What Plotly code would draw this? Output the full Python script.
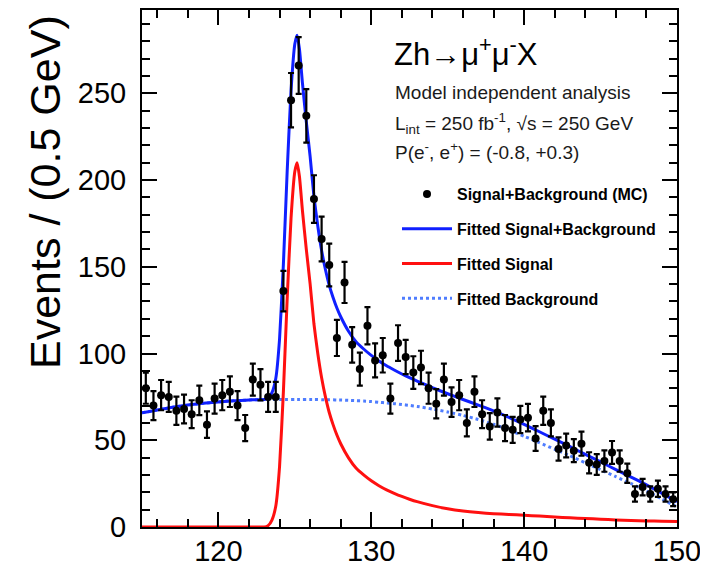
import plotly.graph_objects as go

# ---- data: Signal+Background (MC), 0.5 GeV bins ----
bin_centers = [115.25, 115.75, 116.25, 116.75, 117.25, 117.75, 118.25, 118.75, 119.25, 119.75,
               120.25, 120.75, 121.25, 121.75, 122.25, 122.75, 123.25, 123.75, 124.25, 124.75,
               125.25, 125.75, 126.25, 126.75, 127.25, 127.75, 128.25, 128.75, 129.25, 129.75,
               130.25, 130.75, 131.25, 131.75, 132.25, 132.75, 133.25, 133.75, 134.25, 134.75,
               135.25, 135.75, 136.25, 136.75, 137.25, 137.75, 138.25, 138.75, 139.25, 139.75,
               140.25, 140.75, 141.25, 141.75, 142.25, 142.75, 143.25, 143.75, 144.25, 144.75,
               145.25, 145.75, 146.25, 146.75, 147.25, 147.75, 148.25, 148.75, 149.25, 149.75]
events = [80, 70, 76, 75, 67, 68, 65, 73, 59, 74,
          76, 78, 70, 57, 85, 82, 75, 75, 136, 246,
          266, 237, 189, 166, 151, 109, 141, 105, 91, 116,
          96, 99, 74, 106, 98, 89, 92, 80, 71, 85,
          72, 76, 60, 78, 65, 58, 66, 57, 56, 62,
          63, 51, 67, 60, 45, 47, 44, 48, 37, 36,
          38, 43, 38, 31, 19, 23, 19, 22, 19, 16]

# ---- fitted curves ----
curve_x = [115, 117, 119, 121, 122, 122.5, 123, 123.25, 123.5, 123.75, 124, 124.25, 124.5, 124.75,
           125, 125.15, 125.3, 125.5, 125.75, 126, 126.25, 126.5, 126.75, 127, 127.25, 127.5,
           127.75, 128, 128.5, 129, 129.5, 130, 130.5, 131, 131.5, 132, 132.5, 133, 134, 135,
           136, 137, 138, 139, 140, 141, 142, 143, 144, 145, 146, 147, 148, 149, 150]
fit_signal = [0, 0, 0, 0, 0, 0, 0, 0.8, 4, 12, 35, 78, 132, 178,
              205, 210, 202, 182, 160, 140, 117, 100, 86, 75, 66, 59,
              53, 48, 40, 34, 30, 26.6, 23.8, 21.4, 19.4, 17.6, 16.0, 14.6, 12.3, 10.5,
              9.2, 8.3, 7.7, 7.2, 6.8, 6.3, 5.8, 5.3, 4.9, 4.5, 4.1, 3.8, 3.5, 3.3, 3.1]
fit_background = [65.8, 69, 71.3, 72.8, 73.2, 73.4, 73.5, 73.5, 73.5, 73.5, 73.5, 73.5, 73.5, 73.5,
                  73.5, 73.5, 73.5, 73.5, 73.5, 73.5, 73.5, 73.5, 73.4, 73.4, 73.3, 73.3,
                  73.2, 73.2, 73.0, 72.8, 72.6, 72.3, 71.9, 71.5, 71.1, 70.6, 70.1, 69.5, 68, 66.3,
                  64.3, 62, 59.2, 56, 52.3, 48.6, 44.8, 41, 37, 33, 29, 25, 20.8, 16.2, 11.5]
fit_total = [65.8, 69, 71.3, 72.8, 73.2, 73.4, 73.5, 74.3, 77.5, 85.5, 108.5, 151.5, 205.5, 251.5,
             278.5, 283.5, 275.5, 255.5, 233.5, 213.5, 190.5, 173.5, 159.4, 148.4, 139.3, 132.3,
             126.2, 121.2, 113, 106.8, 102.6, 98.9, 95.7, 92.9, 90.5, 88.2, 86.1, 84.1, 80.3, 76.8,
             73.5, 70.3, 66.9, 63.2, 59.1, 54.9, 50.6, 46.3, 41.9, 37.5, 33.1, 28.8, 24.3, 19.5, 14.6]

x_ticks = [120, 130, 140, 150]
y_ticks = [0, 50, 100, 150, 200, 250]

FONT = "Liberation Sans, Arial, Helvetica, sans-serif"

fig = go.Figure()

fig.add_trace(go.Scatter(
    x=curve_x, y=fit_background, mode="lines", name="Fitted Background",
    line=dict(color="#4f7dff", width=3, dash="dot", shape="spline", smoothing=0.5),
    legendgroup="d", legendrank=4))
fig.add_trace(go.Scatter(
    x=curve_x, y=fit_signal, mode="lines", name="Fitted Signal",
    line=dict(color="#ff1010", width=3, shape="spline", smoothing=0.5),
    legendgroup="c", legendrank=3))
fig.add_trace(go.Scatter(
    x=curve_x, y=fit_total, mode="lines", name="Fitted Signal+Background",
    line=dict(color="#1020ff", width=3, shape="spline", smoothing=0.5),
    legendgroup="b", legendrank=2))
fig.add_trace(go.Scatter(
    x=bin_centers, y=events, mode="markers", name="Signal+Background (MC)",
    marker=dict(color="black", size=8),
    error_y=dict(type="sqrt", color="black", thickness=2.2, width=3),
    legendgroup="a", legendrank=1))

axis_common = dict(
    showline=True, linecolor="black", linewidth=2, mirror="ticks",
    ticks="inside", ticklen=15, tickwidth=2, tickcolor="black",
    showgrid=False, zeroline=False, automargin=False,
    tickfont=dict(family=FONT, size=29, color="black"),
)

fig.update_xaxes(range=[115, 150], tickvals=x_ticks,
                 minor=dict(dtick=2, ticks="inside", ticklen=8, tickwidth=2, tickcolor="black"),
                 ticklabelstandoff=-3, **axis_common)
fig.update_yaxes(range=[0, 298], tickvals=y_ticks,
                 minor=dict(dtick=10, ticks="inside", ticklen=8, tickwidth=2, tickcolor="black"),
                 ticklabelstandoff=8, **axis_common)

# page has an 8px body margin; plot area is meant to span x 142..677, y 10..527 of the window
def px_x(p):
    return (p - 142) / 535.0

def px_y(p):
    return (527 - p) / 517.0

txt = "#1a1a1a"
annotations = [
    dict(text="Events / (0.5 GeV)", x=px_x(45), y=px_y(13), xanchor="center", yanchor="top",
         textangle=-90, font=dict(family=FONT, size=43, color="black")),
    dict(text="Zh\u2192\u03bc<sup>+</sup>\u03bc<sup>-</sup>X", x=px_x(392), y=px_y(52),
         xanchor="left", yanchor="middle", font=dict(family=FONT, size=31, color="black")),
    dict(text="Model independent analysis", x=px_x(393), y=px_y(92),
         xanchor="left", yanchor="middle", font=dict(family=FONT, size=19, color=txt)),
    dict(text="L<sub>int</sub> = 250 fb<sup>-1</sup>, \u221as = 250 GeV", x=px_x(393), y=px_y(123),
         xanchor="left", yanchor="middle", font=dict(family=FONT, size=19, color=txt)),
    dict(text="P(e<sup>-</sup>, e<sup>+</sup>) = (-0.8, +0.3)", x=px_x(393), y=px_y(151),
         xanchor="left", yanchor="middle", font=dict(family=FONT, size=19, color=txt)),
]
for a in annotations:
    a.update(xref="paper", yref="paper", showarrow=False)

fig.update_layout(
    width=700, height=560,
    margin=dict(l=134, r=31, t=2, b=41, autoexpand=False),
    paper_bgcolor="white", plot_bgcolor="white",
    font=dict(family=FONT, color="black"),
    annotations=annotations,
    showlegend=True,
    legend=dict(x=px_x(397), y=px_y(177), xanchor="left", yanchor="top",
                bgcolor="rgba(0,0,0,0)", traceorder="grouped", tracegroupgap=11,
                itemwidth=50,
                font=dict(family=FONT, size=16, color="black", weight="bold")),
)

fig.write_html("out.html")
